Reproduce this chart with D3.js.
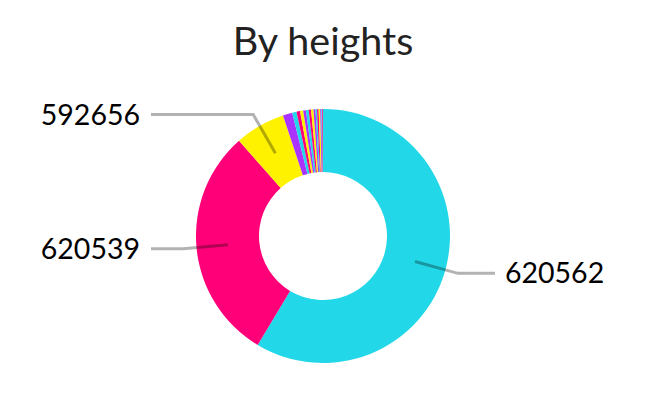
<!DOCTYPE html>
<html>
<head>
<meta charset="utf-8">
<script src="https://cdn.jsdelivr.net/npm/d3@7"></script>
<style>
  body { margin: 0; background: #fff; font-family: Lato, sans-serif; }
</style>
</head>
<body>
<div id="chart"></div>
<script>
// block heights and how many records fall on each
var heights = ["620562", "620539", "592656", "620548", "620557", "620544", "620551",
  "620560", "620541", "620553", "620546", "620558", "620543", "620555", "620549",
  "620540", "620559", "620552"];
var counts = [1172, 598, 128, 24, 11, 9, 8, 7, 7, 6, 6, 5, 4, 4, 4, 3, 2, 2];
var palette = ["#22d8e8", "#ff0078", "#fff200", "#aa33ff"];
var title = "By heights";

var width = 653, height = 398;
var cx = 323, cy = 236;
var outerR = 127, innerR = 64;

var data = heights.map(function(h, i) { return { name: h, value: counts[i] }; });

var svg = d3.select("#chart").append("svg")
  .attr("width", width)
  .attr("height", height);

svg.append("text")
  .attr("x", cx)
  .attr("y", 55)
  .attr("text-anchor", "middle")
  .style("font-size", "39.5px")
  .style("fill", "#222")
  .text(title);

var color = d3.scaleOrdinal().domain(heights).range(palette);

var pie = d3.pie().sort(null).value(function(d) { return d.value; });
var arc = d3.arc().innerRadius(innerR).outerRadius(outerR);
var arcs = pie(data);

var g = svg.append("g").attr("transform", "translate(" + cx + "," + cy + ")");

g.selectAll("path.slice")
  .data(arcs)
  .enter()
  .append("path")
  .attr("class", "slice")
  .attr("d", arc)
  .attr("fill", function(d) { return color(d.data.name); });

// only label the bigger slices
var labelled = arcs.filter(function(d) { return d.endAngle - d.startAngle > 0.15; });
var midR = (innerR + outerR) / 2, elbowR = outerR + 13, endX = 172;

function pt(a, r) { return [r * Math.sin(a), -r * Math.cos(a)]; }

g.selectAll("polyline.lead")
  .data(labelled)
  .enter()
  .append("polyline")
  .attr("class", "lead")
  .attr("points", function(d) {
    var a = (d.startAngle + d.endAngle) / 2;
    var p0 = pt(a, midR), p1 = pt(a, elbowR);
    var side = Math.sin(a) >= 0 ? 1 : -1;
    return [p0, p1, [side * endX, p1[1]]].map(function(p) { return p.join(","); }).join(" ");
  })
  .attr("fill", "none")
  .attr("stroke", "#000")
  .attr("stroke-opacity", 0.3)
  .attr("stroke-width", 3);

g.selectAll("text.lbl")
  .data(labelled)
  .enter()
  .append("text")
  .attr("class", "lbl")
  .attr("x", function(d) {
    var a = (d.startAngle + d.endAngle) / 2;
    return Math.sin(a) >= 0 ? endX + 10 : -endX - 11;
  })
  .attr("y", function(d) {
    var a = (d.startAngle + d.endAngle) / 2;
    return pt(a, elbowR)[1];
  })
  .attr("dy", "0.35em")
  .attr("text-anchor", function(d) {
    var a = (d.startAngle + d.endAngle) / 2;
    return Math.sin(a) >= 0 ? "start" : "end";
  })
  .style("font-size", "28.5px")
  .style("fill", "#000")
  .text(function(d) { return d.data.name; });
</script>
</body>
</html>
